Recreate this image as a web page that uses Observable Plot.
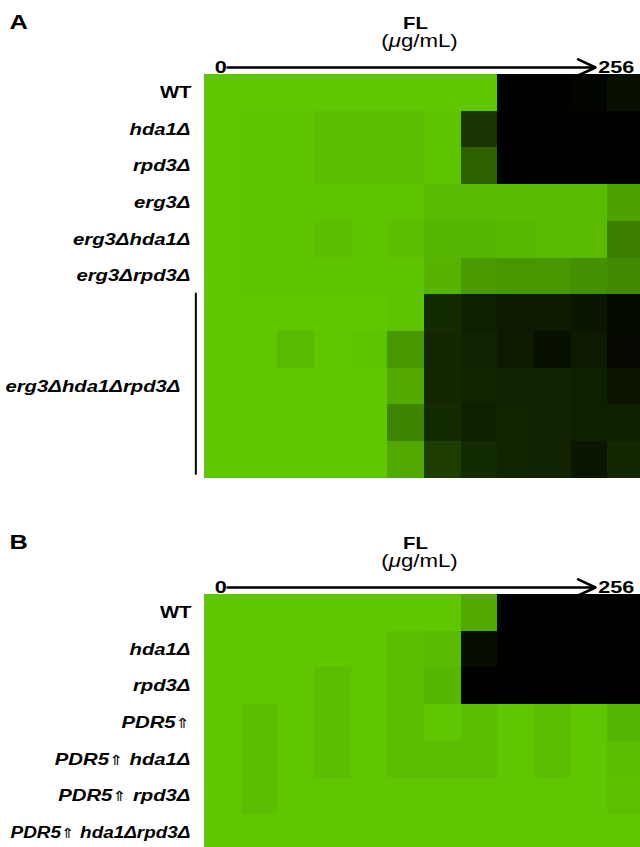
<!DOCTYPE html>
<html><head><meta charset="utf-8">
<script src="https://cdn.jsdelivr.net/npm/d3@7"></script>
<script src="https://cdn.jsdelivr.net/npm/@observablehq/plot@0.6"></script>
<style>
html,body{margin:0;padding:0;background:#fff;overflow:hidden;width:640px;height:847px}
#fig svg{display:block}
</style></head><body><div id="fig"></div>
<script>
// FL concentrations (µg/mL), two-fold series from 0 to 256
const concentrations = ["0","0.25","0.5","1","2","4","8","16","32","64","128","256"];

// Panel A strains (one entry per row; repeated names are replicates)
const strainsA = ["WT","hda1Δ","rpd3Δ","erg3Δ","erg3Δhda1Δ","erg3Δrpd3Δ",
  "erg3Δhda1Δrpd3Δ","erg3Δhda1Δrpd3Δ","erg3Δhda1Δrpd3Δ","erg3Δhda1Δrpd3Δ","erg3Δhda1Δrpd3Δ"];
// relative growth (0 = none, 1 = full)
const growthA = [
  [0.99,0.99,0.99,0.99,0.99,0.99,0.99,0.99,0.01,0.01,0.02,0.08],
  [0.99,0.98,0.98,0.95,0.95,0.95,0.98,0.26,0.01,0.01,0.01,0.01],
  [0.99,0.98,0.98,0.95,0.95,0.95,0.98,0.48,0.01,0.01,0.01,0.01],
  [0.99,0.98,0.98,0.98,0.98,0.98,0.93,0.93,0.94,0.94,0.94,0.81],
  [0.99,0.98,0.98,0.95,0.98,0.95,0.91,0.91,0.92,0.93,0.93,0.62],
  [0.99,0.98,0.98,0.98,0.98,0.98,0.90,0.77,0.75,0.75,0.72,0.69],
  [0.99,0.99,0.99,0.99,0.99,0.97,0.21,0.16,0.13,0.13,0.11,0.05],
  [0.99,0.99,0.93,0.99,0.97,0.75,0.20,0.17,0.14,0.08,0.13,0.04],
  [0.99,0.99,0.99,0.99,0.99,0.85,0.20,0.18,0.17,0.17,0.16,0.10],
  [0.99,0.99,0.99,0.99,0.99,0.66,0.21,0.16,0.18,0.17,0.16,0.16],
  [0.99,0.99,0.99,0.99,0.99,0.84,0.31,0.21,0.18,0.17,0.11,0.20]
];

// Panel B strains
const strainsB = ["WT","hda1Δ","rpd3Δ","PDR5⇑","PDR5⇑ hda1Δ","PDR5⇑ rpd3Δ","PDR5⇑ hda1Δrpd3Δ"];
const growthB = [
  [0.99,0.99,0.99,0.99,0.99,0.99,0.99,0.85,0.01,0.01,0.01,0.01],
  [0.99,0.99,0.99,0.99,0.99,0.95,0.94,0.07,0.01,0.01,0.01,0.01],
  [0.99,0.99,0.99,0.95,0.99,0.95,0.91,0.01,0.01,0.01,0.01,0.01],
  [0.99,0.95,0.99,0.95,0.99,0.95,0.99,0.95,0.99,0.95,0.99,0.91],
  [0.99,0.95,0.99,0.95,0.99,0.95,0.95,0.95,0.99,0.95,0.99,0.95],
  [0.99,0.95,0.99,0.99,0.99,0.99,0.99,0.99,0.99,0.99,0.99,0.96],
  [0.99,0.99,0.99,0.99,0.99,0.99,0.99,0.99,0.99,0.99,0.99,0.99]
];

const panelLetters = ["A","B"];
const axisTitle = "FL";
const axisUnit = "(μg/mL)";

const STRETCH = 1.27;
const MAX_LABEL = 180;
const FONT = "'Liberation Sans', Arial, Helvetica, sans-serif";

function panel(letter, strains, growth, height, marginBottom) {
  const rows = strains.map((s, i) => ({key: s + "#" + i, strain: s, i}));
  const groups = d3.groups(rows, r => r.strain).map(([strain, rs]) => ({
    strain, first: rs[0].key, last: rs[rs.length - 1].key,
    mid: rs[Math.floor((rs.length - 1) / 2)].key, n: rs.length
  }));
  const labels = groups.map(g => ({key: g.mid, label: g.strain, italic: g.strain !== "WT", grouped: g.n > 1}));
  const cells = rows.flatMap(r => concentrations.map((c, j) => ({row: r.key, conc: c, value: growth[r.i][j]})));
  const first = concentrations[0], last = concentrations[concentrations.length - 1];
  const lab = {y: "key", text: "label", frameAnchor: "left", textAnchor: "end", fontSize: 16, fontWeight: "bold", fill: "black"};
  return Plot.plot({
    width: 644, height,
    marginLeft: 204, marginRight: 0, marginTop: 74, marginBottom,
    style: {fontFamily: FONT, maxWidth: "none", background: "white", overflow: "hidden"},
    x: {domain: concentrations, padding: 0, round: false, axis: null},
    y: {domain: rows.map(r => r.key), padding: 0, round: false, axis: null},
    color: {type: "linear", domain: [0, 1], range: ["#000000", "#60c800"], interpolate: "rgb"},
    marks: [
      Plot.cell(cells, {x: "conc", y: "row", fill: "value", shapeRendering: "crispEdges"}),
      Plot.text(labels.filter(d => !d.italic), {...lab, dx: -13}),
      Plot.text(labels.filter(d => d.italic && !d.grouped), {...lab, dx: -14, fontStyle: "italic"}),
      Plot.text(labels.filter(d => d.italic && d.grouped), {...lab, dx: -24, fontStyle: "italic"}),
      Plot.ruleX(groups.filter(g => g.n > 1), {x: () => first, y1: "first", y2: "last", dx: -27, insetTop: -1.5, insetBottom: 3, stroke: "black", strokeWidth: 2}),
      Plot.arrow([0], {x1: () => first, x2: () => last, y1: () => rows[0].key, y2: () => rows[0].key, dy: -25.4, insetStart: 4.7, insetEnd: 30.7, stroke: "black", strokeWidth: 2.6, headLength: 11, headAngle: 50}),
      Plot.text([first], {x: d => d, text: d => d, frameAnchor: "top", dy: -7, dx: -2, lineAnchor: "middle", textAnchor: "middle", fontSize: 17, fontWeight: "bold", fill: "black"}),
      Plot.text([last], {x: d => d, text: d => d, frameAnchor: "top", dy: -7, dx: -28, lineAnchor: "middle", textAnchor: "start", fontSize: 17, fontWeight: "bold", fill: "black"}),
      Plot.text([axisTitle], {text: d => d, frameAnchor: "top", dx: -9, dy: -46, lineAnchor: "bottom", fontSize: 16, fontWeight: "bold", fill: "black"}),
      Plot.text([axisUnit], {text: d => d, frameAnchor: "top", dx: -5, dy: -28, lineAnchor: "bottom", fontSize: 17.5, fill: "black"}),
      Plot.text([letter], {text: d => d, frameAnchor: "top-left", dx: -195, dy: -46, lineAnchor: "bottom", textAnchor: "start", fontSize: 20, fontWeight: "bold", fill: "black"})
    ]
  });
}

function finish(svg) {
  svg.querySelectorAll("text").forEach(t => {
    const tr = t.getAttribute("transform") || "";
    const x = t.getAttribute("x");
    let extra = "";
    if (x && !/em$/.test(x)) { extra = `translate(${x},0) `; t.removeAttribute("x"); }
    const s = t.textContent;
    if (s === axisUnit) t.innerHTML = '(<tspan font-style="italic">μ</tspan>g/mL)';
    else if (s.includes("⇑")) {
      const [a, b] = s.split("⇑");
      t.innerHTML = a + '<tspan font-family="DejaVu Sans" font-weight="normal" font-style="normal" font-size="14" fill="#000">⇑</tspan>' + (b || "");
    }
    const len = t.getComputedTextLength();
    const k = len * STRETCH > MAX_LABEL + 2 ? MAX_LABEL / len : STRETCH;
    t.setAttribute("transform", `${tr} ${extra}scale(${k},1)`);
  });
}

const fig = document.getElementById("fig");
const svgA = panel(panelLetters[0], strainsA, growthA, 520, 520 - 74 - 11 * 36.7);
const svgB = panel(panelLetters[1], strainsB, growthB, 331, 331 - 74 - 7 * 36.7);
fig.appendChild(svgA);
fig.appendChild(svgB);
finish(svgA);
finish(svgB);
</script></body></html>
